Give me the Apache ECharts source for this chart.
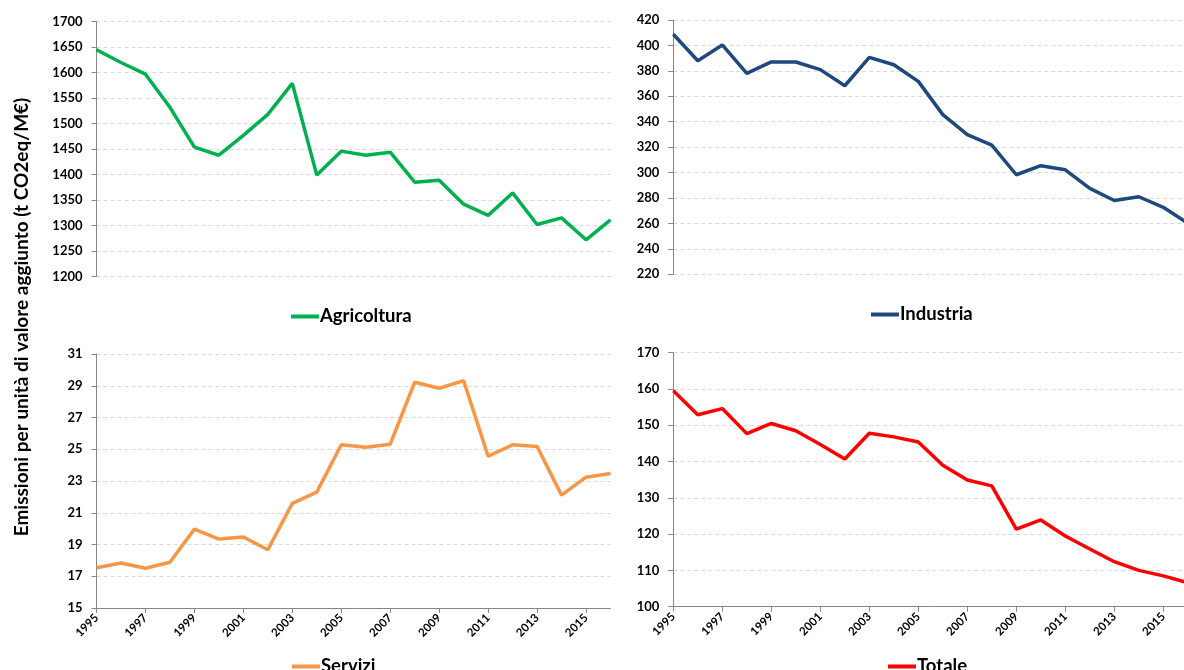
<!DOCTYPE html>
<html>
<head>
<meta charset="utf-8">
<script src="https://cdn.jsdelivr.net/npm/echarts@6/dist/echarts.min.js"></script>
<style>
html,body{margin:0;padding:0;overflow:hidden;background:#fff;}
#chart{width:1190px;height:670px;}
</style>
</head>
<body>
<div id="chart"></div>
<script>
const years = ['1995','1996','1997','1998','1999','2000','2001','2002','2003','2004','2005','2006','2007','2008','2009','2010','2011','2012','2013','2014','2015','2016'];
const agricoltura = [1645,1620,1597,1532,1454,1438,1477,1518,1579,1399,1446,1438,1444,1385,1389,1342,1320,1364,1302,1315,1272,1311];
const industria = [408.8,388,400.4,378,387,387,381,368.3,390.6,384.8,371.7,345.6,329.9,321.6,298.3,305.4,302.2,287.6,278,281,272.7,260.2];
const servizi = [17.54,17.83,17.5,17.88,19.97,19.34,19.47,18.67,21.59,22.3,25.28,25.13,25.32,29.22,28.84,29.32,24.56,25.28,25.17,22.11,23.24,23.47];
const totale = [159.5,152.9,154.6,147.7,150.5,148.5,144.7,140.7,147.8,146.8,145.4,139.0,134.9,133.3,121.4,123.9,119.5,115.9,112.4,110.0,108.5,106.6];
const yTitle = 'Emissioni per unità di valore aggiunto (t CO2eq/M€)';

const FONT = 'Lato';
const gridDefs = [
  {left:96.5, top:21.7, width:514, height:254.8},
  {left:673.3, top:20, width:514.5, height:254.3},
  {left:96.5, top:354, width:514, height:254},
  {left:673.3, top:352.7, width:514.5, height:254}
];
const yDefs = [
  {min:1200, max:1700, interval:50},
  {min:220, max:420, interval:20},
  {min:15, max:31, interval:2},
  {min:100, max:170, interval:10}
];
const seriesDefs = [
  {name:'Agricoltura', data:agricoltura, color:'#00B050'},
  {name:'Industria', data:industria, color:'#1F497D'},
  {name:'Servizi', data:servizi, color:'#F79646'},
  {name:'Totale', data:totale, color:'#FF0000'}
];
const legendPos = [
  {left:286, top:302},
  {left:866, top:300},
  {left:287, top:652},
  {left:883, top:652}
];

const chart = echarts.init(document.getElementById('chart'), null, {renderer:'canvas'});
const option = {
  animation:false,
  backgroundColor:'#ffffff',
  grid: gridDefs.map(g => Object.assign({containLabel:false}, g)),
  xAxis: gridDefs.map((g,i) => ({
    type:'category', gridIndex:i, data:years, boundaryGap:false,
    axisLine:{show:i>=2, lineStyle:{color:'#868686', width:1}},
    axisTick:{show:i>=2, interval:1, length:5, lineStyle:{color:'#868686'}},
    axisLabel:{show:i>=2, interval:1, rotate:45, margin:8, fontFamily:FONT, fontWeight:'bold', fontSize:11.5, color:'#000'},
    splitLine:{show:false}
  })),
  yAxis: yDefs.map((y,i) => ({
    type:'value', gridIndex:i, min:y.min, max:y.max, interval:y.interval,
    axisLine:{show:true, lineStyle:{color:'#868686', width:1}},
    axisTick:{show:true, length:5, lineStyle:{color:'#868686'}},
    axisLabel:{margin:14, fontFamily:FONT, fontWeight:'bold', fontSize:13, color:'#000', formatter: v => String(v)},
    splitLine:{show:true, lineStyle:{color:'#d9d9d9', type:[4,3], width:1}}
  })),
  legend: seriesDefs.map((s,i) => ({
    data:[s.name], left:legendPos[i].left, top:legendPos[i].top,
    icon:'rect', itemWidth:28, itemHeight:4, itemGap:0,
    textStyle:{fontFamily:FONT, fontWeight:'bold', fontSize:18.5, color:'#000', padding:[0,0,0,-4]},
    selectedMode:false
  })),
  series: seriesDefs.map((s,i) => ({
    name:s.name, type:'line', xAxisIndex:i, yAxisIndex:i, data:s.data,
    symbol:'none', smooth:false, color:s.color,
    lineStyle:{color:s.color, width:3.5},
    itemStyle:{color:s.color}
  })),
  graphic:[{
    type:'text', x:22, y:317, rotation:Math.PI/2,
    style:{text:yTitle, fontFamily:FONT, fontWeight:'bold', fontSize:19, fill:'#000', align:'center', verticalAlign:'middle'}
  }]
};
chart.setOption(option);
</script>
</body>
</html>
